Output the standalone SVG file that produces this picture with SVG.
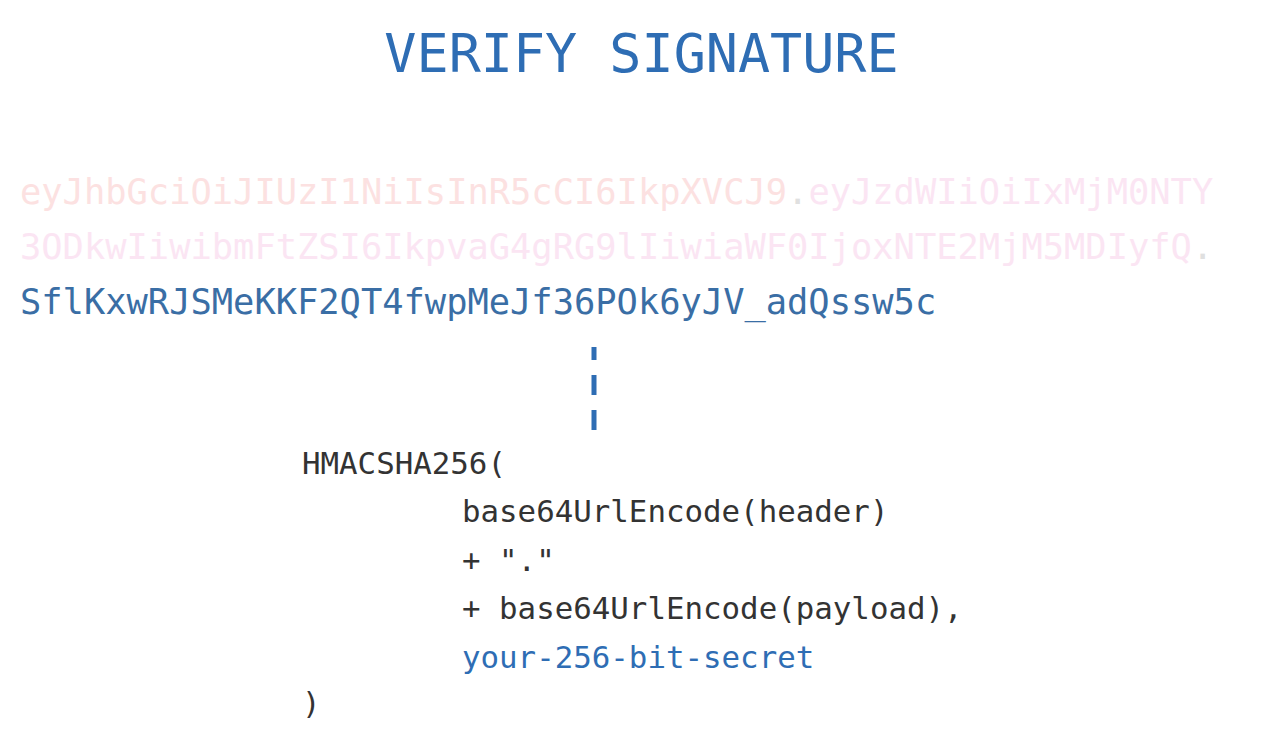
<svg xmlns="http://www.w3.org/2000/svg" width="1280" height="748" viewBox="0 0 1280 748">
<style>
  text { font-family: "DejaVu Sans Mono", "Liberation Mono", monospace; white-space: pre; }
  .title { font-size: 53.4px; fill: #2e6db4; }
  .tok { font-size: 35.4px; }
  .hdr { fill: #fce1e1; }
  .pay { fill: #fbe5f3; }
  .dot { fill: #e0e0e0; }
  .sig { fill: #3a6ea5; }
  .code { font-size: 30.8px; fill: #333333; }
  .secret { fill: #2e6db4; }
  .conn { stroke: #2e6db4; stroke-width: 5; fill: none; }
</style>
<rect width="1280" height="748" fill="#ffffff"/>
<g id="title">
  <text class="title" x="641.5" y="71.5" text-anchor="middle">VERIFY SIGNATURE</text>
</g>
<g id="token">
  <text class="tok" x="20" y="204"><tspan class="hdr">eyJhbGciOiJIUzI1NiIsInR5cCI6IkpXVCJ9</tspan><tspan class="dot">.</tspan><tspan class="pay">eyJzdWIiOiIxMjM0NTY</tspan></text>
  <text class="tok" x="20" y="259"><tspan class="pay">3ODkwIiwibmFtZSI6IkpvaG4gRG9lIiwiaWF0IjoxNTE2MjM5MDIyfQ</tspan><tspan class="dot">.</tspan></text>
  <text class="tok sig" x="20" y="314">SflKxwRJSMeKKF2QT4fwpMeJf36POk6yJV_adQssw5c</text>
</g>
<g id="connectors">
  <line class="conn" x1="594" y1="347" x2="594" y2="430" stroke-dasharray="20 15" stroke-dashoffset="7"/>
</g>
<g id="formula">
  <text class="code" x="302" y="474">HMACSHA256(</text>
  <text class="code" x="462" y="522">base64UrlEncode(header)</text>
  <text class="code" x="462" y="571">+ "."</text>
  <text class="code" x="462" y="619">+ base64UrlEncode(payload),</text>
  <text class="code secret" x="462" y="668">your-256-bit-secret</text>
  <text class="code" x="302" y="714">)</text>
</g>
</svg>
